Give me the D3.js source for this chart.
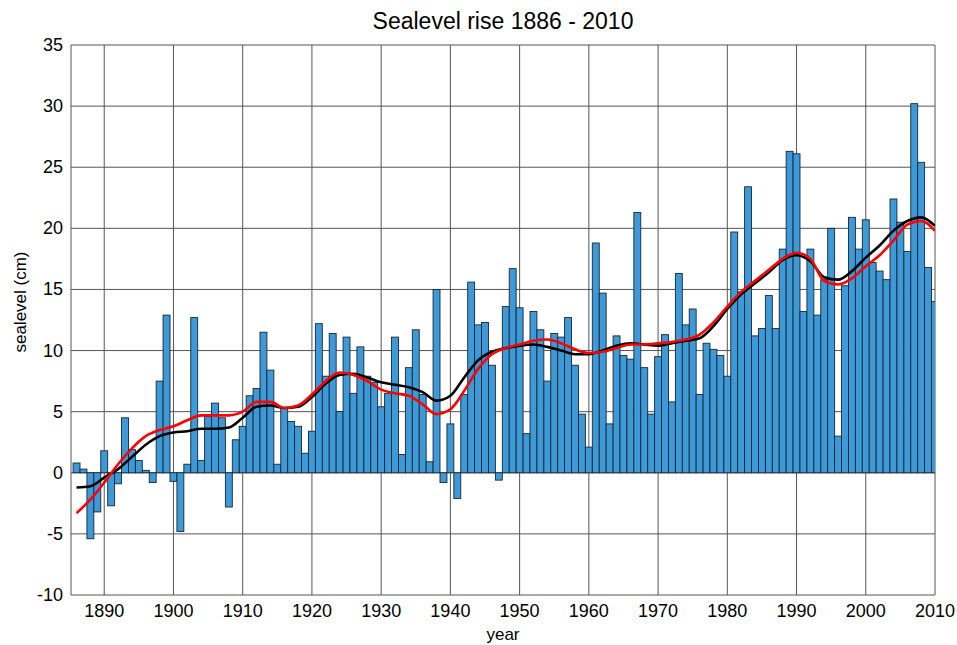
<!DOCTYPE html>
<html>
<head>
<meta charset="utf-8">
<script src="https://cdn.jsdelivr.net/npm/d3@7"></script>
<style>
  body { margin: 0; background: #fff; }
  text { font-family: "Liberation Sans", Arial, sans-serif; }
</style>
</head>
<body>
<div id="chart"></div>
<script>
// yearly sea level (cm), 1886 - 2010
var years = d3.range(1886, 2011);
var sealevel = [
    0.8, 0.3, -5.4, -3.2, 1.8, -2.7, -0.9, 4.5, 1.9, 1.0,
    0.2, -0.8, 7.5, 12.9, -0.7, -4.8, 0.7, 12.7, 1.0, 4.6,
    5.7, 4.5, -2.8, 2.7, 3.8, 6.3, 6.9, 11.5, 8.4, 0.7,
    5.3, 4.2, 3.8, 1.6, 3.4, 12.2, 7.9, 11.4, 5.0, 11.1,
    6.5, 10.3, 7.9, 7.4, 5.4, 6.5, 11.1, 1.5, 8.6, 11.7,
    6.4, 0.9, 15.0, -0.8, 4.0, -2.1, 6.4, 15.6, 12.1, 12.3,
    8.8, -0.6, 13.6, 16.7, 13.5, 3.2, 13.2, 11.7, 7.5, 11.4,
    11.1, 12.7, 8.8, 4.8, 2.1, 18.8, 14.7, 4.0, 11.2, 9.6,
    9.3, 21.3, 8.6, 4.8, 9.5, 11.3, 5.8, 16.3, 12.1, 13.4,
    6.4, 10.6, 10.1, 9.6, 7.9, 19.7, 14.8, 23.4, 11.2, 11.8,
    14.5, 11.8, 18.3, 26.3, 26.1, 13.2, 18.3, 12.9, 15.8, 20.0,
    3.0, 15.3, 20.9, 18.3, 20.7, 17.2, 16.5, 15.8, 22.4, 20.5,
    18.1, 30.2, 25.4, 16.8, 14.0
];

// smoothed curves, read every 2 years
var curveYears = d3.range(1886, 2011, 2);
var blackCurve = [
    -1.2, -1.1, -0.4, 0.3, 1.3, 2.3, 3.0, 3.3, 3.4, 3.6,
    3.6, 3.7, 4.5, 5.4, 5.5, 5.3, 5.4, 6.2, 7.3, 8.0,
    8.1, 7.8, 7.4, 7.2, 7.0, 6.6, 5.9, 6.3, 7.8, 9.2,
    9.9, 10.2, 10.4, 10.5, 10.3, 10.0, 9.7, 9.7, 10.0, 10.4,
    10.6, 10.5, 10.4, 10.6, 10.8, 11.0, 12.0, 13.4, 14.6, 15.5,
    16.4, 17.4, 17.8, 17.3, 16.0, 15.8, 16.5, 17.6, 18.6, 19.8,
    20.6, 20.9, 20.2
];
var redCurve = [
    -3.3, -2.2, -0.8, 0.7, 2.0, 3.0, 3.5, 3.8, 4.3, 4.7,
    4.7, 4.7, 5.0, 5.8, 5.8, 5.3, 5.5, 6.4, 7.5, 8.2,
    8.0, 7.5, 6.8, 6.5, 6.3, 5.6, 4.8, 5.2, 6.7, 8.5,
    9.7, 10.2, 10.5, 10.8, 10.9, 10.6, 10.1, 9.8, 9.9, 10.2,
    10.5, 10.5, 10.6, 10.7, 10.9, 11.3, 12.3, 13.6, 14.8, 15.7,
    16.6, 17.5, 18.0, 17.5, 15.7, 15.4, 15.9, 16.9, 17.8, 19.0,
    20.3, 20.6, 19.8
];

var xTicks = [1890, 1900, 1910, 1920, 1930, 1940, 1950, 1960, 1970, 1980, 1990, 2000, 2010];
var yTicks = [-10, -5, 0, 5, 10, 15, 20, 25, 30, 35];

var width = 957, height = 645;
var margin = { top: 45, right: 22, bottom: 50, left: 71 };
var w = width - margin.left - margin.right;
var h = height - margin.top - margin.bottom;

var svg = d3.select("#chart").append("svg")
    .attr("width", width)
    .attr("height", height);

var g = svg.append("g")
    .attr("transform", `translate(${margin.left},${margin.top})`);

var x = d3.scaleLinear().domain([1885.2, 2010]).range([0, w]);
var y = d3.scaleLinear().domain([-10, 35]).range([h, 0]);

g.append("clipPath").attr("id", "plot-clip")
    .append("rect").attr("width", w).attr("height", h);

// grid
g.append("g").selectAll("line")
    .data(xTicks).enter().append("line")
    .attr("x1", d => x(d)).attr("x2", d => x(d))
    .attr("y1", 0).attr("y2", h)
    .attr("stroke", "#555").attr("stroke-width", 1);
g.append("g").selectAll("line")
    .data(yTicks).enter().append("line")
    .attr("x1", 0).attr("x2", w)
    .attr("y1", d => y(d)).attr("y2", d => y(d))
    .attr("stroke", "#555").attr("stroke-width", 1);
g.append("line")
    .attr("x1", 0).attr("x2", 0).attr("y1", 0).attr("y2", h)
    .attr("stroke", "#555");

// bars
var bw = x(1) - x(0);
var plot = g.append("g").attr("clip-path", "url(#plot-clip)");
plot.selectAll(".bar")
    .data(sealevel)
    .enter().append("rect")
    .attr("class", "bar")
    .attr("x", (d, i) => x(years[i]) - bw / 2)
    .attr("width", bw)
    .attr("y", d => y(Math.max(0, d)))
    .attr("height", d => Math.abs(y(d) - y(0)))
    .attr("fill", "#3d9ad9")
    .attr("stroke", "#1c2530")
    .attr("stroke-width", 0.9);

// smoothed lines
var line = d3.line()
    .x((d, i) => x(curveYears[i]))
    .y(d => y(d))
    .curve(d3.curveMonotoneX);

plot.append("path")
    .attr("d", line(blackCurve))
    .attr("fill", "none")
    .attr("stroke", "#000")
    .attr("stroke-width", 2.6);
plot.append("path")
    .attr("d", line(redCurve))
    .attr("fill", "none")
    .attr("stroke", "#f00")
    .attr("stroke-width", 2.6);

// tick labels
g.append("g").selectAll("text")
    .data(xTicks).enter().append("text")
    .attr("x", d => x(d)).attr("y", h + 22)
    .attr("text-anchor", "middle")
    .attr("font-size", 18)
    .text(d => d);
g.append("g").selectAll("text")
    .data(yTicks).enter().append("text")
    .attr("x", -8).attr("y", d => y(d) + 6)
    .attr("text-anchor", "end")
    .attr("font-size", 18)
    .text(d => d);

// titles
svg.append("text")
    .attr("x", margin.left + w / 2).attr("y", 29)
    .attr("text-anchor", "middle")
    .attr("font-size", 23)
    .text("Sealevel rise 1886 - 2010");
svg.append("text")
    .attr("x", margin.left + w / 2).attr("y", 640)
    .attr("text-anchor", "middle")
    .attr("font-size", 17)
    .text("year");
svg.append("text")
    .attr("transform", "translate(26,302) rotate(-90)")
    .attr("text-anchor", "middle")
    .attr("font-size", 17)
    .text("sealevel (cm)");
</script>
</body>
</html>
